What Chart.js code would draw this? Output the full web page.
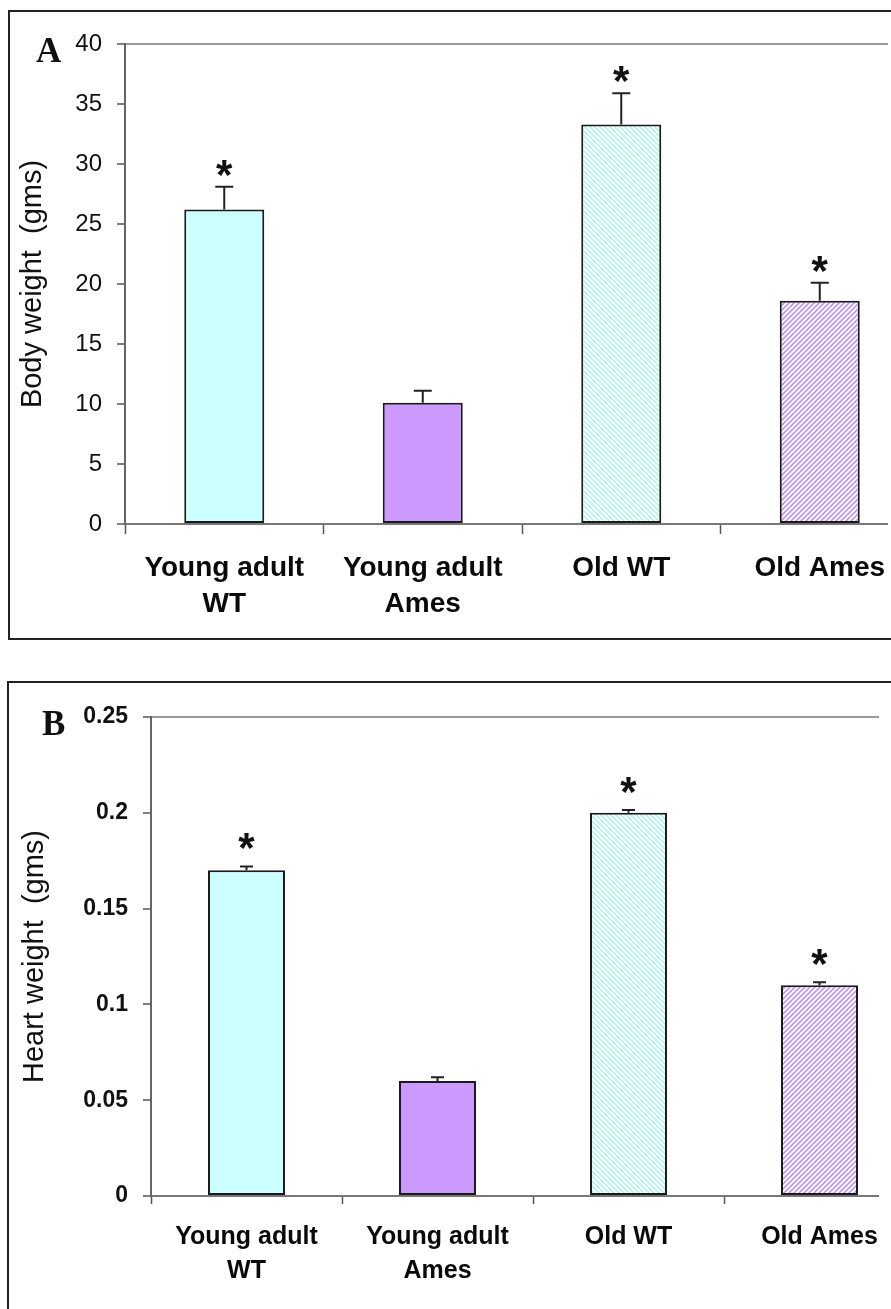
<!DOCTYPE html>
<html>
<head>
<meta charset="utf-8">
<script src="https://cdn.jsdelivr.net/npm/chart.js@4.4.1/dist/chart.umd.min.js"></script>
<style>
  html, body { margin: 0; padding: 0; background: #fff; width: 891px; height: 1309px; overflow: hidden; }
  .panel { position: absolute; border: 2px solid #222; box-sizing: border-box; }
  #panelA { left: 8px; top: 10px; width: 920px; height: 630px; }
  #panelB { left: 7px; top: 681px; width: 920px; height: 700px; }
  .clip { position: absolute; left: 0; top: 0; overflow: hidden; }
  .letter { position: absolute; font: bold 35px "Liberation Serif", "Times New Roman", serif; line-height: 1; color: #111; }
</style>
</head>
<body>
<div class="panel" id="panelA">
  <div class="clip" style="width:878px;height:614px;"><canvas id="chartA" width="909" height="612"></canvas></div>
  <div class="letter" style="left:26px;top:21px;">A</div>
</div>
<div class="panel" id="panelB">
  <div class="clip" style="width:870px;height:620px;"><canvas id="chartB" width="906" height="613"></canvas></div>
  <div class="letter" style="left:33px;top:23px;">B</div>
</div>
<script>
// data
const categories = [["Young adult", "WT"], ["Young adult", "Ames"], "Old WT", "Old Ames"];

const bodyWeight = [26.2, 10.1, 33.3, 18.6];
const bodyWeightErr = [1.9, 1.0, 2.6, 1.5];
const bodyStar = [true, false, true, true];
const bodyTicks = ["0", "5", "10", "15", "20", "25", "30", "35", "40"];

const heartWeight = [0.17, 0.06, 0.20, 0.11];
const heartWeightErr = [0.002, 0.002, 0.0015, 0.0015];
const heartStar = [true, false, true, true];
const heartTicks = ["0", "0.05", "0.1", "0.15", "0.2", "0.25"];

Chart.defaults.font.family = '"Liberation Sans", Arial, sans-serif';
Chart.defaults.color = "#111";

function stripes(color, dir, lw) {
  const s = 5;
  const c = document.createElement("canvas");
  c.width = s; c.height = s;
  const g = c.getContext("2d");
  g.fillStyle = "#fff";
  g.fillRect(0, 0, s, s);
  g.strokeStyle = color;
  g.lineWidth = lw;
  g.beginPath();
  if (dir === "/") {
    g.moveTo(-1, s + 1); g.lineTo(s + 1, -1);
    g.moveTo(-s, s); g.lineTo(s, -s);
    g.moveTo(0, 2 * s); g.lineTo(2 * s, 0);
  } else {
    g.moveTo(-1, -1); g.lineTo(s + 1, s + 1);
    g.moveTo(-s, 0); g.lineTo(s, 2 * s);
    g.moveTo(0, -s); g.lineTo(2 * s, s);
  }
  g.stroke();
  return g.createPattern(c, "repeat");
}

function fills() {
  return ["#ccffff", "#cc99ff", stripes("#b4f2ee", "\\", 1.6), stripes("#c29ae9", "/", 1.8)];
}

function errorBars(errs, stars, cap, starShift) {
  return {
    id: "errorBars",
    afterDatasetsDraw(chart) {
      const ctx = chart.ctx;
      const y = chart.scales.y;
      const vals = chart.data.datasets[0].data;
      ctx.save();
      ctx.strokeStyle = "#222";
      ctx.lineWidth = 2;
      ctx.fillStyle = "#111";
      ctx.font = 'bold 42px "Liberation Sans", Arial, sans-serif';
      ctx.textAlign = "center";
      ctx.textBaseline = "alphabetic";
      chart.getDatasetMeta(0).data.forEach((bar, i) => {
        const top = y.getPixelForValue(vals[i] + errs[i]);
        ctx.beginPath();
        ctx.moveTo(bar.x, bar.y);
        ctx.lineTo(bar.x, top);
        ctx.moveTo(bar.x - cap / 2, top);
        ctx.lineTo(bar.x + cap / 2, top);
        ctx.stroke();
        if (stars[i]) ctx.fillText("*", bar.x, top + starShift);
      });
      ctx.restore();
    }
  };
}

function makeChart(id, opts) {
  return new Chart(document.getElementById(id), {
    type: "bar",
    data: {
      labels: categories,
      datasets: [{
        data: opts.values,
        backgroundColor: fills(),
        borderColor: "#1a1a1a",
        borderWidth: 2,
        borderSkipped: false,
        categoryPercentage: 1,
        barPercentage: opts.barPct
      }]
    },
    options: {
      responsive: false,
      animation: false,
      events: [],
      layout: { padding: { top: opts.padTop, left: 0, right: 0, bottom: 0 } },
      plugins: { legend: { display: false }, tooltip: { enabled: false } },
      scales: {
        x: {
          ticks: {
            color: "#0a0a0a",
            font: { size: opts.xFont, weight: "bold", lineHeight: opts.xLine },
            padding: 16,
            maxRotation: 0,
            autoSkip: false
          },
          grid: { drawOnChartArea: false, offset: true, tickLength: opts.xTick, tickColor: "#555", tickWidth: 1.5 },
          border: { color: "#777", width: 2 },
          afterFit: (s) => { s.height = 100; }
        },
        y: {
          min: 0,
          max: opts.max,
          ticks: {
            stepSize: opts.step,
            color: "#111",
            font: { size: opts.yFont, weight: opts.yWeight },
            padding: 15,
            callback: (v, i) => opts.tickLabels[i]
          },
          grid: {
            color: (c) => (c.tick && Math.abs(c.tick.value - opts.max) < 1e-9 ? "#999" : "rgba(0,0,0,0)"),
            lineWidth: 2,
            tickColor: "#555",
            tickWidth: 1.5,
            tickLength: 8
          },
          border: { color: "#666", width: 2 },
          title: {
            display: true,
            text: opts.title,
            color: "#111",
            font: { size: 29 },
            padding: { top: opts.titlePad, bottom: 0 }
          },
          afterFit: (s) => { s.width = opts.yWidth; }
        }
      }
    },
    plugins: [errorBars(opts.errs, opts.stars, opts.cap, opts.starShift)]
  });
}

makeChart("chartA", {
  values: bodyWeight, errs: bodyWeightErr, stars: bodyStar, tickLabels: bodyTicks,
  max: 40, step: 5, title: "Body weight  (gms)",
  padTop: 32, yWidth: 115, titlePad: 6, barPct: 0.403,
  xFont: 28, xLine: 1.29, xTick: 10, yFont: 24, yWeight: "normal",
  cap: 18, starShift: 2
});

makeChart("chartB", {
  values: heartWeight, errs: heartWeightErr, stars: heartStar, tickLabels: heartTicks,
  max: 0.25, step: 0.05, title: "Heart weight  (gms)",
  padTop: 34, yWidth: 142, titlePad: 9, barPct: 0.403,
  xFont: 25, xLine: 1.36, xTick: 8, yFont: 23, yWeight: "bold",
  cap: 13, starShift: -4
});
</script>
</body>
</html>
